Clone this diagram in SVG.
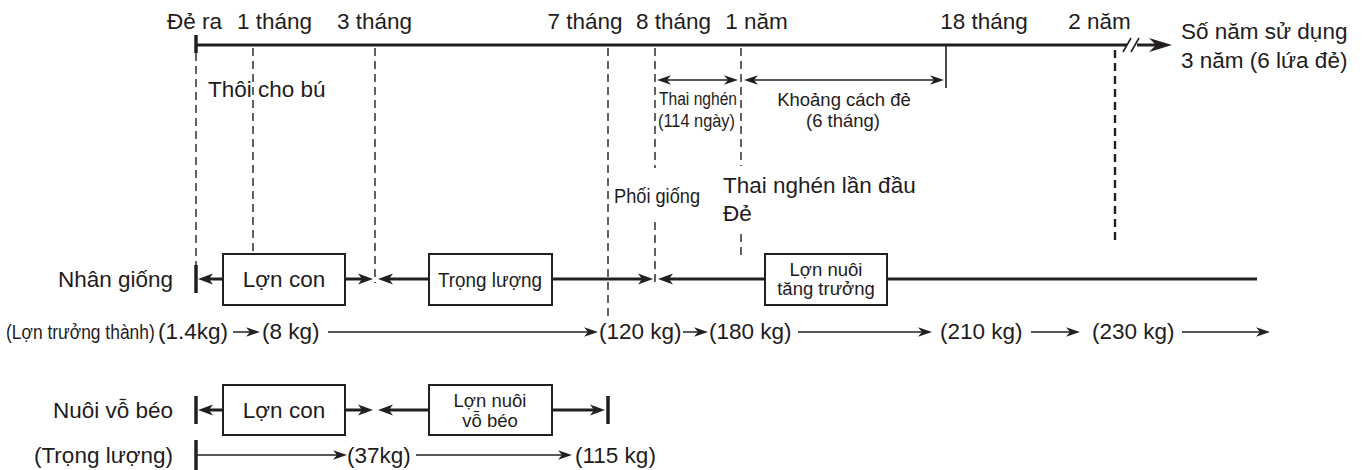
<svg xmlns="http://www.w3.org/2000/svg" width="1368" height="470" viewBox="0 0 1368 470">
<style>
text{font-family:"Liberation Sans",Arial,sans-serif;fill:#1f1c1d}
.t22{font-size:22.5px}
.t18{font-size:18.5px}
.m{text-anchor:middle}
.e{text-anchor:end}
.dash{stroke:#231f20;stroke-width:1.4;stroke-dasharray:8 5;fill:none}
.dash2{stroke:#231f20;stroke-width:2.4;stroke-dasharray:8 5;fill:none}
.thick{stroke:#231f20;stroke-width:3;fill:none}
.thin{stroke:#231f20;stroke-width:1.5;fill:none}
.box{fill:#fff;stroke:#231f20;stroke-width:2}
.tick{stroke:#231f20;stroke-width:3.5}
</style>
<defs>
<marker id="ah" viewBox="-16 -7 17 14" refX="-9" refY="0" markerWidth="17" markerHeight="14" markerUnits="userSpaceOnUse" orient="auto-start-reverse">
<path d="M0,0 L-15,-5.5 L-11,0 L-15,5.5 Z" fill="#231f20"/>
</marker>
<marker id="ahs" viewBox="-15 -6 16 12" refX="-7" refY="0" markerWidth="16" markerHeight="12" markerUnits="userSpaceOnUse" orient="auto-start-reverse">
<path d="M0,0 L-14,-4.8 L-10,0 L-14,4.8 Z" fill="#231f20"/>
</marker>
<marker id="ahb" viewBox="-24 -8 25 16" refX="-12" refY="0" markerWidth="25" markerHeight="16" markerUnits="userSpaceOnUse" orient="auto">
<path d="M0,0 L-23,-7 L-16,0 L-23,7 Z" fill="#231f20"/>
</marker>
</defs>

<g id="timeline">
<line class="tick" x1="196" y1="35" x2="196" y2="53"/>
<line class="thick" x1="196" y1="45" x2="1127" y2="45"/>
<line class="thick" x1="1137" y1="45" x2="1160" y2="45" marker-end="url(#ahb)"/>
<line stroke="#231f20" stroke-width="1.6" x1="1123" y1="52" x2="1131" y2="38"/>
<line stroke="#231f20" stroke-width="1.6" x1="1131" y1="52" x2="1139" y2="38"/>
<line stroke="#231f20" stroke-width="1.6" x1="946" y1="45" x2="946" y2="88"/>
<g class="t22">
<text x="194.5" y="29" class="m">Đẻ ra</text>
<text x="274.5" y="29" class="m">1 tháng</text>
<text x="374.5" y="29" class="m">3 tháng</text>
<text x="585" y="29" class="m">7 tháng</text>
<text x="673.5" y="29" class="m">8 tháng</text>
<text x="756.5" y="29" class="m">1 năm</text>
<text x="984" y="29" class="m">18 tháng</text>
<text x="1099.5" y="29" class="m">2 năm</text>
<text x="1181" y="39">Số năm sử dụng</text>
<text x="1181" y="68">3 năm (6 lứa đẻ)</text>
<text x="208" y="97">Thôi cho bú</text>
<text x="723" y="193">Thai nghén lần đầu</text>
<text x="723" y="221">Đẻ</text>
</g>
<text x="614" y="203" font-size="21" textLength="86" lengthAdjust="spacingAndGlyphs">Phối giống</text>
<text x="659" y="105" font-size="18" textLength="78" lengthAdjust="spacingAndGlyphs">Thai nghén</text>
<text x="658" y="127" font-size="18" textLength="77" lengthAdjust="spacingAndGlyphs">(114 ngày)</text>
<text x="844" y="106" class="t18 m">Khoảng cách đẻ</text>
<text x="843" y="127" class="t18 m">(6 tháng)</text>
</g>

<g id="guides">
<line class="dash" x1="196" y1="53" x2="196" y2="265"/>
<line class="dash" x1="253" y1="48" x2="253" y2="254"/>
<line class="dash" x1="375" y1="48" x2="375" y2="283"/>
<line class="dash" x1="608" y1="48" x2="608" y2="318"/>
<line class="dash" x1="655" y1="48" x2="655" y2="168"/>
<line class="dash" x1="655" y1="222" x2="655" y2="284"/>
<line class="dash" x1="741" y1="48" x2="741" y2="166"/>
<line class="dash" x1="741" y1="234" x2="741" y2="256"/>
<line class="dash2" x1="1115" y1="50" x2="1115" y2="245"/>
</g>

<g id="connectors">
<line class="thin" x1="664" y1="80" x2="731" y2="80" marker-start="url(#ahs)" marker-end="url(#ahs)"/>
<line class="thin" x1="751" y1="80" x2="937" y2="80" marker-start="url(#ahs)" marker-end="url(#ahs)"/>
<line class="tick" x1="196" y1="265" x2="196" y2="293"/>
<line class="thick" x1="207" y1="279" x2="223" y2="279" marker-start="url(#ah)"/>
<line class="thick" x1="345" y1="279" x2="364" y2="279" marker-end="url(#ah)"/>
<line class="thick" x1="387" y1="279" x2="429" y2="279" marker-start="url(#ah)"/>
<line class="thick" x1="552" y1="279" x2="644" y2="279" marker-end="url(#ah)"/>
<line class="thick" x1="667" y1="279" x2="765" y2="279" marker-start="url(#ah)"/>
<line class="thick" x1="887" y1="279" x2="1257" y2="279"/>
<line class="thin" x1="233" y1="332" x2="253" y2="332" marker-end="url(#ahs)"/>
<line class="thin" x1="328" y1="332" x2="591" y2="332" marker-end="url(#ahs)"/>
<line class="thin" x1="683" y1="332" x2="701" y2="332" marker-end="url(#ahs)"/>
<line class="thin" x1="798" y1="332" x2="925" y2="332" marker-end="url(#ahs)"/>
<line class="thin" x1="1031" y1="332" x2="1073" y2="332" marker-end="url(#ahs)"/>
<line class="thin" x1="1182" y1="332" x2="1263" y2="332" marker-end="url(#ahs)"/>
<line class="tick" x1="196" y1="396" x2="196" y2="424"/>
<line class="thick" x1="207" y1="410" x2="223" y2="410" marker-start="url(#ah)"/>
<line class="thick" x1="345" y1="410" x2="364" y2="410" marker-end="url(#ah)"/>
<line class="thick" x1="387" y1="410" x2="429" y2="410" marker-start="url(#ah)"/>
<line class="thick" x1="552" y1="410" x2="596" y2="410" marker-end="url(#ah)"/>
<line class="tick" x1="608" y1="396" x2="608" y2="424"/>
<line class="tick" x1="196" y1="440" x2="196" y2="470"/>
<line class="thin" x1="196" y1="455" x2="340" y2="455" marker-end="url(#ahs)"/>
<line class="thin" x1="416" y1="455" x2="565" y2="455" marker-end="url(#ahs)"/>
</g>

<g id="row-labels" class="t22">
<text x="173" y="287" class="e">Nhân giống</text>
<text x="173" y="418" class="e">Nuôi vỗ béo</text>
<text x="173" y="463" class="e">(Trọng lượng)</text>
</g>

<g id="weights" class="t22">
<text transform="translate(6,339) scale(0.83,1)" font-size="21">(Lợn trưởng thành)</text>
<text x="158" y="339">(1.4kg)</text>
<text x="262" y="339">(8 kg)</text>
<text x="599" y="339">(120 kg)</text>
<text x="709" y="339">(180 kg)</text>
<text x="940" y="339">(210 kg)</text>
<text x="1092" y="339">(230 kg)</text>
<text x="347" y="463">(37kg)</text>
<text x="575" y="463">(115 kg)</text>
</g>

<g id="node-lon-con-1">
<rect class="box" x="223" y="254" width="122" height="51"/>
<text x="284" y="287" class="t22 m">Lợn con</text>
</g>
<g id="node-trong-luong">
<rect class="box" x="429" y="254" width="123" height="51"/>
<text x="438" y="287" font-size="21" textLength="104" lengthAdjust="spacingAndGlyphs">Trọng lượng</text>
</g>
<g id="node-lon-nuoi-tang-truong">
<rect class="box" x="765" y="254" width="122" height="51"/>
<text x="826" y="276" class="t18 m">Lợn nuôi</text>
<text x="826" y="295" class="t18 m">tăng trưởng</text>
</g>
<g id="node-lon-con-2">
<rect class="box" x="223" y="385" width="122" height="50"/>
<text x="284" y="418" class="t22 m">Lợn con</text>
</g>
<g id="node-lon-nuoi-vo-beo">
<rect class="box" x="429" y="385" width="123" height="50"/>
<text x="490" y="407" class="t18 m">Lợn nuôi</text>
<text x="490" y="427" class="t18 m">vỗ béo</text>
</g>
</svg>
